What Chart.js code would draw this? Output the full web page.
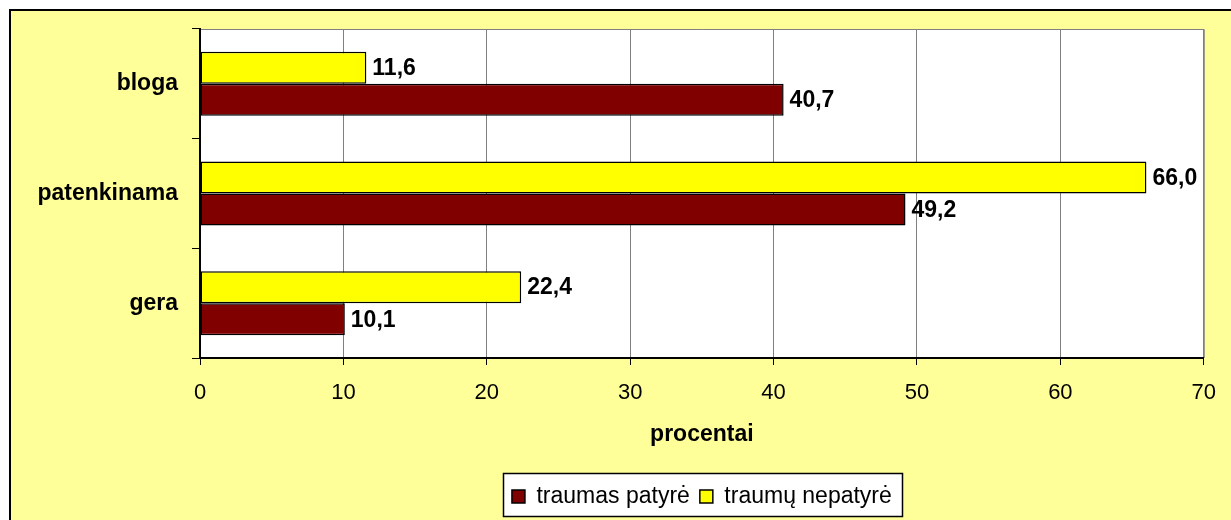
<!DOCTYPE html>
<html>
<head>
<meta charset="utf-8">
<script src="https://cdn.jsdelivr.net/npm/chart.js@4"></script>
<style>
  html, body { margin: 0; padding: 0; background: #fff; }
  #wrap { width: 1231px; height: 520px; }
</style>
</head>
<body>
<div id="wrap"><canvas id="chart" width="1231" height="520"></canvas></div>
<script>
const categories = ["bloga", "patenkinama", "gera"];
const notInjured = [11.6, 66.0, 22.4];   // traumų nepatyrė
const injured = [40.7, 49.2, 10.1];      // traumas patyrė
const seriesNames = ["traumų nepatyrė", "traumas patyrė"];
const xTicks = [0, 10, 20, 30, 40, 50, 60, 70];
const axisTitle = "procentai";

const FONT = "Arial, 'Liberation Sans', sans-serif";
Chart.defaults.color = "#000";
Chart.defaults.font.family = FONT;

// background frame, plot area and the legend box
const framePlugin = {
  id: "frame",
  beforeDraw(chart) {
    const { ctx, chartArea: a, width, height } = chart;
    ctx.save();
    ctx.fillStyle = "#fff";
    ctx.fillRect(0, 0, width, height);
    ctx.fillStyle = "#FFFF99";
    ctx.fillRect(10, 10, width - 10, height - 10);
    ctx.strokeStyle = "#000";
    ctx.lineWidth = 2;
    ctx.beginPath();
    ctx.moveTo(10, height);
    ctx.lineTo(10, 10);
    ctx.lineTo(width, 10);
    ctx.stroke();

    ctx.fillStyle = "#fff";
    ctx.fillRect(a.left, a.top, a.right - a.left, a.bottom - a.top);
    ctx.strokeStyle = "#808080";
    ctx.lineWidth = 1;
    ctx.beginPath();
    ctx.moveTo(a.left, a.top + 0.5);
    ctx.lineTo(a.right + 0.5, a.top + 0.5);
    ctx.lineTo(a.right + 0.5, a.bottom);
    ctx.stroke();

    const hb = chart.legend && chart.legend.legendHitBoxes;
    if (hb && hb.length) {
      const l = Math.min(...hb.map((h) => h.left)) - 9;
      const r = Math.max(...hb.map((h) => h.left + h.width)) + 10;
      const t = hb[0].top - 12;
      const b = hb[0].top + hb[0].height + 8;
      ctx.fillStyle = "#fff";
      ctx.fillRect(l, t, r - l, b - t);
      ctx.strokeStyle = "#000";
      ctx.lineWidth = 1.5;
      ctx.strokeRect(Math.round(l) + 0.5, Math.round(t) + 0.5, Math.round(r - l), Math.round(b - t));
    }
    ctx.restore();
  },
};

// value labels at the bar ends
const valueLabels = {
  id: "valueLabels",
  afterDatasetsDraw(chart) {
    const { ctx } = chart;
    ctx.save();
    ctx.font = "bold 23px " + FONT;
    ctx.fillStyle = "#000";
    ctx.textBaseline = "middle";
    ctx.textAlign = "left";
    chart.data.datasets.forEach((ds, i) => {
      chart.getDatasetMeta(i).data.forEach((bar, j) => {
        ctx.fillText(ds.data[j].toFixed(1).replace(".", ","), bar.x + 6, bar.y + 1);
      });
    });
    ctx.restore();
  },
};

new Chart(document.getElementById("chart"), {
  type: "bar",
  data: {
    labels: categories,
    datasets: [
      {
        label: seriesNames[0],
        data: notInjured,
        backgroundColor: "#FFFF00",
        borderColor: "#000",
        borderWidth: 1.5,
        borderSkipped: false,
      },
      {
        label: seriesNames[1],
        data: injured,
        backgroundColor: "#800000",
        borderColor: "#000",
        borderWidth: 1.5,
        borderSkipped: false,
      },
    ],
  },
  options: {
    indexAxis: "y",
    responsive: false,
    animation: false,
    barPercentage: 1,
    categoryPercentage: 0.584,
    layout: { padding: { left: 0, top: 29, right: 24, bottom: 2 } },
    plugins: {
      legend: {
        position: "bottom",
        fullSize: false,
        reverse: true,
        labels: {
          boxWidth: 13,
          boxHeight: 13,
          padding: 10,
          color: "#000",
          font: { size: 23 },
        },
      },
      tooltip: { enabled: false },
    },
    scales: {
      x: {
        min: 0,
        max: 70,
        afterBuildTicks: (scale) => {
          scale.ticks = xTicks.map((v) => ({ value: v }));
        },
        afterFit: (scale) => {
          scale.height = 117;
        },
        grid: {
          color: "#808080",
          lineWidth: 1,
          tickColor: "#000",
          tickLength: 7,
        },
        border: { color: "#000", width: 2 },
        ticks: { padding: 15, font: { size: 22 }, color: "#000" },
        title: {
          display: true,
          text: axisTitle,
          font: { size: 23, weight: "bold" },
          color: "#000",
          padding: { top: 0, bottom: 27 },
        },
      },
      y: {
        afterFit: (scale) => {
          scale.width = 200;
        },
        grid: {
          offset: true,
          drawOnChartArea: false,
          tickColor: "#000",
          tickLength: 8,
        },
        border: { color: "#000", width: 2 },
        ticks: { padding: 14, font: { size: 23, weight: "bold" }, color: "#000" },
      },
    },
  },
  plugins: [framePlugin, valueLabels],
});
</script>
</body>
</html>
